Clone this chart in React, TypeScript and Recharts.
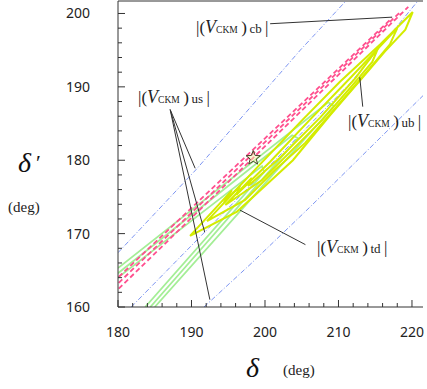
import React from 'react';
import { ComposedChart, Line, Scatter, XAxis, YAxis, ReferenceLine } from 'recharts';

type Pt = { x: number; y: number };

// axis ticks (deg)
const xTicks = [180, 182, 184, 186, 188, 190, 192, 194, 196, 198, 200, 202, 204, 206, 208, 210, 212, 214, 216, 218, 220];
const yTicks = [160, 162, 164, 166, 168, 170, 172, 174, 176, 178, 180, 182, 184, 186, 188, 190, 192, 194, 196, 198, 200];

// |V_us| contours (blue dash-dot)
const usUpper: Pt[] = [
  { x: 180, y: 167.4 }, { x: 190.6, y: 178.7 }, { x: 204.8, y: 195.0 }, { x: 211.0, y: 201.7 },
];
const usMiddle: Pt[] = [
  { x: 181.8, y: 160 }, { x: 196.1, y: 174.6 }, { x: 211.6, y: 190.5 }, { x: 220.8, y: 201.7 },
];
const usLower: Pt[] = [
  { x: 191.7, y: 160 }, { x: 198.2, y: 166.0 }, { x: 206.1, y: 173.6 }, { x: 214.0, y: 181.4 }, { x: 221.5, y: 188.8 },
];

// |V_cb| contours (pink dashed)
const cb1: Pt[] = [{ x: 180.1, y: 164.1 }, { x: 217.3, y: 199.4 }];
const cb2: Pt[] = [{ x: 180.1, y: 163.3 }, { x: 218.4, y: 200.2 }];
const cb3: Pt[] = [{ x: 180.1, y: 162.5 }, { x: 219.5, y: 200.9 }];

// |V_td| contours (green)
const tdOuter: Pt[] = [
  { x: 180, y: 165.3 }, { x: 208.6, y: 187.9 }, { x: 209.4, y: 187.4 }, { x: 185.0, y: 160 },
];
const tdMiddle: Pt[] = [
  { x: 180, y: 164.6 }, { x: 203.7, y: 183.4 }, { x: 204.5, y: 183.0 }, { x: 184.4, y: 160 },
];
const tdInner: Pt[] = [
  { x: 180, y: 164.0 }, { x: 199.6, y: 179.2 }, { x: 199.9, y: 178.4 }, { x: 183.7, y: 160 },
];

// |V_ub| contours (yellow)
const ubOuter: Pt[] = [
  { x: 189.8, y: 169.7 }, { x: 195.5, y: 175.9 }, { x: 194.4, y: 174.2 }, { x: 199.1, y: 179.2 },
  { x: 204.8, y: 185.2 }, { x: 210.2, y: 190.7 }, { x: 215.7, y: 195.8 }, { x: 220.1, y: 200.2 },
  { x: 219.1, y: 197.8 }, { x: 216.3, y: 194.8 }, { x: 213.3, y: 191.3 }, { x: 208.9, y: 186.2 },
  { x: 203.8, y: 180.0 }, { x: 200.0, y: 176.5 }, { x: 196.2, y: 173.0 }, { x: 189.8, y: 169.7 },
];
const ubMiddle: Pt[] = [
  { x: 192.1, y: 171.7 }, { x: 196.6, y: 176.5 }, { x: 196.1, y: 175.3 }, { x: 200.7, y: 179.8 },
  { x: 206.1, y: 185.5 }, { x: 211.6, y: 191.2 }, { x: 218.0, y: 198.0 }, { x: 217.0, y: 195.8 },
  { x: 214.3, y: 192.6 }, { x: 210.2, y: 187.8 }, { x: 205.5, y: 182.4 }, { x: 201.4, y: 178.7 },
  { x: 197.3, y: 174.6 }, { x: 192.1, y: 171.7 },
];
const ubInner: Pt[] = [
  { x: 194.6, y: 173.9 }, { x: 198.2, y: 177.6 }, { x: 197.7, y: 176.5 }, { x: 202.0, y: 180.3 },
  { x: 207.5, y: 185.8 }, { x: 212.3, y: 191.2 }, { x: 215.4, y: 195.3 }, { x: 214.6, y: 193.4 },
  { x: 211.8, y: 190.1 }, { x: 207.8, y: 185.5 }, { x: 203.4, y: 181.1 }, { x: 199.6, y: 177.3 },
  { x: 194.6, y: 173.9 },
];

// best fit point
const bestFit: Pt[] = [{ x: 198.4, y: 180.3 }];

// annotation pointers
const cbPointer: Pt[] = [{ x: 200.7, y: 198.6 }, { x: 217.3, y: 199.5 }];
const ubPointer: Pt[] = [{ x: 213.3, y: 187.3 }, { x: 212.9, y: 191.3 }];
const tdPointer: Pt[] = [{ x: 205.5, y: 168.5 }, { x: 196.6, y: 173.2 }];
const usPointerStart: Pt = { x: 187.1, y: 186.9 };
const usPointerEnds: Pt[] = [{ x: 190.5, y: 178.9 }, { x: 191.8, y: 170.2 }, { x: 192.5, y: 161.0 }];

const AXIS = '#333';
const BLUE = '#7d95f2';
const PINK = '#ff4f8e';
const GREEN = '#a4ee96';
const YELLOW = '#d4ec00';

const BottomTick = (props: any) => {
  const { x, y, payload } = props;
  const major = payload.value % 10 === 0;
  return (
    <g>
      <line x1={x} y1={y} x2={x} y2={y - (major ? 7 : 4)} stroke={AXIS} />
      {major && (
        <text x={x} y={y + 30} textAnchor="middle" fontSize={14} fontFamily="Noto Sans" fill="#222">
          {payload.value}
        </text>
      )}
    </g>
  );
};

const TopTick = (props: any) => {
  const { x, y, payload } = props;
  const major = payload.value % 10 === 0;
  return <line x1={x} y1={y} x2={x} y2={y + (major ? 7 : 4)} stroke={AXIS} />;
};

const LeftTick = (props: any) => {
  const { x, y, payload } = props;
  const major = payload.value % 10 === 0;
  return (
    <g>
      <line x1={x} y1={y} x2={x + (major ? 7 : 4)} y2={y} stroke={AXIS} />
      {major && (
        <text x={x - 28} y={y + 5} textAnchor="end" fontSize={14} fontFamily="Noto Sans" fill="#222">
          {payload.value}
        </text>
      )}
    </g>
  );
};

const RightTick = (props: any) => {
  const { x, y, payload } = props;
  const major = payload.value % 10 === 0;
  return <line x1={x} y1={y} x2={x - (major ? 7 : 4)} y2={y} stroke={AXIS} />;
};

const Star = (props: any) => {
  const { cx, cy } = props;
  const pts: string[] = [];
  for (let i = 0; i < 10; i++) {
    const r = i % 2 === 0 ? 7.5 : 3.2;
    const a = -Math.PI / 2 + (i * Math.PI) / 5;
    pts.push(`${cx + r * Math.cos(a)},${cy + r * Math.sin(a)}`);
  }
  return <polygon points={pts.join(' ')} fill="#f3f0a8" fillOpacity={0.5} stroke="#45452a" strokeWidth={1} />;
};

const CkmLabel = ({ x, y, sub }: { x: number; y: number; sub: string }) => (
  <text x={x} y={y} fontFamily="Liberation Serif" fill="#222">
    <tspan fontSize={17}>|(</tspan>
    <tspan fontSize={18} fontStyle="italic">V</tspan>
    <tspan fontSize={9.5}>CKM</tspan>
    <tspan fontSize={17}>{'\u2009)'}</tspan>
    <tspan fontSize={13}>{'\u2009' + sub}</tspan>
    <tspan fontSize={17}>{'\u2009|'}</tspan>
  </text>
);

const contour = (key: string, data: Pt[], color: string, width: number, dash?: string) => (
  <Line
    key={key}
    data={data}
    dataKey="y"
    type="linear"
    stroke={color}
    strokeWidth={width}
    strokeDasharray={dash}
    dot={false}
    activeDot={false}
    isAnimationActive={false}
  />
);

export default function App() {
  return (
    <div style={{ position: 'absolute', left: 0, top: 0, width: 427, height: 389, background: '#fff' }}>
      <ComposedChart width={427} height={389} margin={{ top: 0, right: 4, bottom: 0, left: 0 }}>
        <XAxis
          type="number"
          dataKey="x"
          domain={[180, 221.5]}
          allowDataOverflow
          ticks={xTicks}
          interval={0}
          height={82}
          tickSize={0}
          tickMargin={0}
          tickLine={false}
          tick={BottomTick}
          axisLine={{ stroke: AXIS }}
        />
        <XAxis
          xAxisId="top"
          orientation="top"
          type="number"
          domain={[180, 221.5]}
          allowDataOverflow
          ticks={xTicks}
          interval={0}
          height={1}
          tickSize={0}
          tickMargin={0}
          tickLine={false}
          tick={TopTick}
          axisLine={{ stroke: AXIS }}
        />
        <YAxis
          type="number"
          domain={[160, 201.7]}
          allowDataOverflow
          ticks={yTicks}
          interval={0}
          width={118}
          tickSize={0}
          tickMargin={0}
          tickLine={false}
          tick={LeftTick}
          axisLine={{ stroke: AXIS }}
        />
        <YAxis
          yAxisId="right"
          orientation="right"
          type="number"
          domain={[160, 201.7]}
          allowDataOverflow
          ticks={yTicks}
          interval={0}
          width={0}
          tickSize={0}
          tickMargin={0}
          tickLine={false}
          tick={RightTick}
          axisLine={{ stroke: AXIS }}
        />

        {contour('us1', usUpper, BLUE, 1, '5 2 1 2')}
        {contour('us2', usMiddle, BLUE, 1, '5 2 1 2')}
        {contour('us3', usLower, BLUE, 1, '5 2 1 2')}

        {contour('td1', tdOuter, GREEN, 1.8)}
        {contour('td2', tdMiddle, GREEN, 1.8)}
        {contour('td3', tdInner, GREEN, 1.8)}

        {contour('ub1', ubOuter, YELLOW, 2)}
        {contour('ub2', ubMiddle, YELLOW, 2)}
        {contour('ub3', ubInner, YELLOW, 2)}

        {contour('cb1', cb1, PINK, 1.8, '5 3')}
        {contour('cb2', cb2, PINK, 1.8, '5 3')}
        {contour('cb3', cb3, PINK, 1.8, '5 3')}

        <Scatter data={bestFit} dataKey="y" shape={Star} isAnimationActive={false} />

        <ReferenceLine segment={cbPointer} stroke="#333" strokeWidth={1} />
        <ReferenceLine segment={ubPointer} stroke="#333" strokeWidth={1} />
        <ReferenceLine segment={tdPointer} stroke="#333" strokeWidth={1} />
        {usPointerEnds.map((p, i) => (
          <ReferenceLine key={'us' + i} segment={[usPointerStart, p]} stroke="#333" strokeWidth={1} />
        ))}
      </ComposedChart>

      <svg width={427} height={389} style={{ position: 'absolute', left: 0, top: 0, pointerEvents: 'none' }}>
        <CkmLabel x={196} y={33} sub="cb" />
        <CkmLabel x={138} y={103} sub="us" />
        <CkmLabel x={348} y={127} sub="ub" />
        <CkmLabel x={317} y={253} sub="td" />

        <text x={18} y={172} fontFamily="Liberation Serif" fontStyle="italic" fontSize={28} fill="#111">δ</text>
        <text x={36} y={170} fontFamily="Liberation Serif" fontSize={22} fill="#111">′</text>
        <text x={8} y={212} fontFamily="Liberation Serif" fontSize={15} fill="#222">(deg)</text>

        <text x={246} y={377} fontFamily="Liberation Serif" fontStyle="italic" fontSize={28} fill="#111">δ</text>
        <text x={283} y={375} fontFamily="Liberation Serif" fontSize={15} fill="#222">(deg)</text>
      </svg>
    </div>
  );
}
